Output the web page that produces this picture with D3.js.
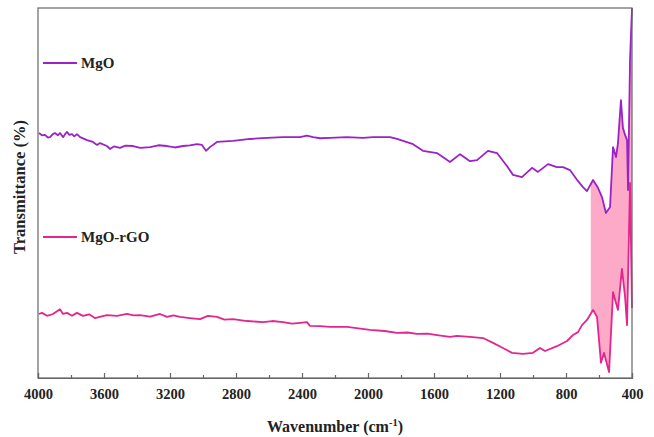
<!DOCTYPE html>
<html>
<head>
<meta charset="utf-8">
<script src="https://cdn.jsdelivr.net/npm/d3@7"></script>
<style>
  body { margin: 0; background: #fff; }
  text { font-family: "Liberation Serif", "Times New Roman", serif; font-weight: bold; }
</style>
</head>
<body>
<div id="chart"></div>
<script>
// wavenumber (cm-1) and transmittance (arbitrary %)
var mgoWave = [3994,3976,3958,3940,3927,3910,3897,3880,3867,3848,3836,3824,3810,3794,3780,3764,3745,3703,3667,3642,3624,3582,3564,3540,3503,3470,3424,3380,3321,3270,3218,3170,3121,3080,3036,3006,2982,2958,2915,2818,2715,2612,2515,2412,2370,2333,2290,2230,2130,2030,1970,1867,1824,1727,1667,1582,1503,1442,1382,1339,1273,1218,1158,1121,1067,1006,970,909,855,818,776,727,697,673,636,606,582,558,533,515,497,485,467,455,442,430,424,412,400];
var mgoT    = [66.2,65.6,65.7,65.0,65.1,65.9,66.2,65.6,66.2,65.1,65.9,66.5,65.7,65.9,65.3,65.9,65.1,64.3,63.8,63.0,63.5,62.7,61.9,62.6,62.2,62.8,62.7,62.2,62.4,62.9,62.7,62.3,62.7,62.9,63.2,63.0,61.4,62.4,63.8,64.1,64.6,64.9,65.1,65.1,65.5,65.1,64.8,64.9,65.1,64.9,65.1,65.1,64.6,63.2,61.4,60.8,58.4,60.5,58.6,58.9,61.4,60.8,57.3,54.9,54.3,56.8,55.7,57.8,57.0,57.0,56.2,53.2,51.6,50.5,53.5,51.4,48.9,44.6,46.2,62.4,59.7,63.5,75.1,67.6,65.7,64.3,50.8,85.9,100];

var rgoWave = [3994,3976,3945,3909,3867,3848,3824,3794,3764,3727,3690,3655,3620,3582,3521,3461,3420,3382,3320,3261,3218,3180,3139,3080,3018,2970,2915,2870,2818,2733,2636,2580,2515,2460,2412,2370,2352,2290,2230,2127,1988,1900,1824,1760,1703,1640,1582,1503,1461,1382,1303,1242,1182,1127,1061,1000,958,927,855,794,758,727,703,673,636,612,588,570,539,515,485,461,442,430,412,400];
var rgoT    = [17.3,17.6,16.8,17.3,18.6,17.3,17.6,16.8,17.6,16.8,17.2,16.2,16.6,17.0,16.8,17.3,16.9,17.0,16.6,17.3,16.5,16.9,16.5,16.2,15.9,16.8,16.5,15.8,15.9,15.4,15.1,15.4,15.1,14.7,14.9,15.1,14.1,14.0,13.8,13.8,13.0,12.7,12.2,12.3,11.9,12.0,11.6,11.1,11.4,11.1,10.8,9.5,8.1,6.8,6.5,6.8,8.1,7.3,8.6,10.0,11.6,12.4,14.3,15.7,18.4,16.5,4.1,6.8,1.6,23.2,18.4,29.5,21.9,14.3,52.7,18.9];

var seriesNames = ["MgO", "MgO-rGO"];
var seriesColors = ["#9b22c6", "#e2268e"];
var xTicks = [4000,3600,3200,2800,2400,2000,1600,1200,800,400];
var xMinor = [3800,3400,3000,2600,2200,1800,1400,1000,600];
var shadeFrom = 650; // shaded band between the curves, 650 -> 400 cm-1

var width = 654, height = 437;
var margin = {left: 38, right: 22, top: 8, bottom: 59};

var svg = d3.select("#chart").append("svg")
    .attr("width", width)
    .attr("height", height);

var x = d3.scaleLinear().domain([4000, 400]).range([margin.left, width - margin.right]);
var y = d3.scaleLinear().domain([0, 100]).range([height - margin.bottom, margin.top]);

var mgo = mgoWave.map(function(w, i){ return {w: w, t: mgoT[i]}; });
var rgo = rgoWave.map(function(w, i){ return {w: w, t: rgoT[i]}; });

function interp(data, w){
    for (var i = 0; i < data.length - 1; i++) {
        var a = data[i], b = data[i+1];
        if (w <= a.w && w >= b.w) {
            return a.t + (b.t - a.t) * (a.w - w) / (a.w - b.w);
        }
    }
    return data[data.length-1].t;
}

var line = d3.line()
    .x(function(d){ return x(d.w); })
    .y(function(d){ return y(d.t); });

// shaded region between the two curves
var upper = [{w: shadeFrom, t: interp(mgo, shadeFrom)}].concat(mgo.filter(function(d){ return d.w < shadeFrom; }));
var lower = rgo.filter(function(d){ return d.w < shadeFrom; }).reverse()
    .concat([{w: shadeFrom, t: interp(rgo, shadeFrom)}]);
svg.append("path")
    .attr("d", line(upper.concat(lower)) + "Z")
    .attr("fill", "#fcaac8")
    .attr("stroke", "none");

// curves
[mgo, rgo].forEach(function(data, i){
    svg.append("path")
        .datum(data)
        .attr("fill", "none")
        .attr("stroke", seriesColors[i])
        .attr("stroke-width", 1.8)
        .attr("stroke-linejoin", "round")
        .attr("d", line);
});

// frame
svg.append("rect")
    .attr("x", margin.left)
    .attr("y", margin.top)
    .attr("width", width - margin.left - margin.right)
    .attr("height", height - margin.top - margin.bottom)
    .attr("fill", "none")
    .attr("stroke", "#666")
    .attr("stroke-width", 1.2);

// x axis, ticks pointing in
var xAxis = svg.append("g")
    .attr("transform", "translate(0," + (height - margin.bottom) + ")")
    .call(d3.axisBottom(x).tickValues(xTicks).tickSize(-5).tickPadding(11).tickFormat(d3.format("d")));
xAxis.select(".domain").attr("stroke", "#666").attr("stroke-width", 1.2);
xAxis.selectAll(".tick line").attr("stroke", "#666").attr("stroke-width", 1.2);
xAxis.selectAll("text").attr("font-size", 14.5).attr("fill", "#222")
    .style("font-family", "'Liberation Serif', serif").style("font-weight", "bold");

var xMinorAxis = svg.append("g")
    .attr("transform", "translate(0," + (height - margin.bottom) + ")")
    .call(d3.axisBottom(x).tickValues(xMinor).tickSize(-3).tickFormat(""));
xMinorAxis.select(".domain").remove();
xMinorAxis.selectAll(".tick line").attr("stroke", "#666").attr("stroke-width", 1.2);

// axis titles
var xTitle = svg.append("text")
    .attr("x", (margin.left + width - margin.right) / 2)
    .attr("y", 432)
    .attr("text-anchor", "middle")
    .attr("font-size", 16)
    .attr("fill", "#222");
xTitle.append("tspan").text("Wavenumber (cm");
xTitle.append("tspan").attr("dy", -6).attr("font-size", 10.5).text("-1");
xTitle.append("tspan").attr("dy", 6).text(")");

svg.append("text")
    .attr("transform", "translate(25,187) rotate(-90)")
    .attr("text-anchor", "middle")
    .attr("font-size", 16.5)
    .attr("fill", "#222")
    .text("Transmittance (%)");

// legend
var legendY = [63, 237];
seriesNames.forEach(function(name, i){
    svg.append("line")
        .attr("x1", 43).attr("x2", 77)
        .attr("y1", legendY[i]).attr("y2", legendY[i])
        .attr("stroke", seriesColors[i])
        .attr("stroke-width", 1.8);
    svg.append("text")
        .attr("x", 81)
        .attr("y", legendY[i])
        .attr("dy", "0.35em")
        .attr("font-size", 15)
        .attr("fill", "#222")
        .text(name);
});
</script>
</body>
</html>
